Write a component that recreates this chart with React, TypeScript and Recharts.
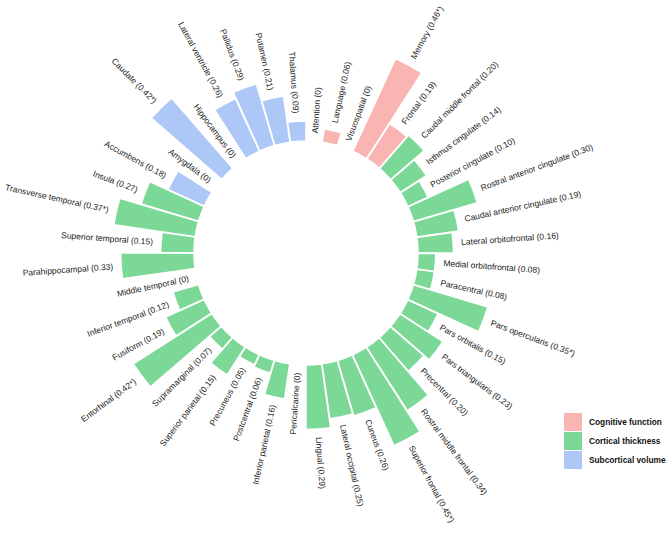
import { RadialBarChart, RadialBar, PolarAngleAxis, PolarRadiusAxis, Sector } from 'recharts';

// clockwise from 12 o'clock, grouped
const cognitiveNames = ['Attention', 'Language', 'Visuospatial', 'Memory', 'Frontal'];
const cognitiveValues = [0, 0.06, 0, 0.46, 0.19];

const corticalNames = [
  'Caudal middle frontal', 'Isthmus cingulate', 'Posterior cingulate', 'Rostral anterior cingulate',
  'Caudal anterior cingulate', 'Lateral orbitofrontal', 'Medial orbitofrontal', 'Paracentral',
  'Pars opercularis', 'Pars orbitalis', 'Pars triangularis', 'Precentral', 'Rostral middle frontal',
  'Superior frontal', 'Cuneus', 'Lateral occipital', 'Lingual', 'Pericalcarine', 'Inferior parietal',
  'Postcentral', 'Precuneus', 'Superior parietal', 'Supramarginal', 'Entorhinal', 'Fusiform',
  'Inferior temporal', 'Middle temporal', 'Parahippocampal', 'Superior temporal', 'Transverse temporal',
  'Insula',
];
const corticalValues = [
  0.2, 0.14, 0.1, 0.3, 0.19, 0.16, 0.08, 0.08, 0.35, 0.15, 0.23, 0.2, 0.34, 0.45, 0.26, 0.25, 0.29, 0,
  0.16, 0.06, 0.05, 0.15, 0.07, 0.42, 0.19, 0.12, 0, 0.33, 0.15, 0.37, 0.27,
];

const subcorticalNames = [
  'Accumbens', 'Amygdala', 'Caudate', 'Hippocampus', 'Lateral ventricle', 'Pallidus', 'Putamen', 'Thalamus',
];
const subcorticalValues = [0.18, 0, 0.42, 0, 0.26, 0.29, 0.21, 0.09];

// marked with * in the figure
const significant = ['Memory', 'Pars opercularis', 'Superior frontal', 'Entorhinal', 'Transverse temporal', 'Caudate'];

const groupLabels = ['Cognitive function', 'Cortical thickness', 'Subcortical volume'];
const groupColors = ['#F8B5B2', '#7BD897', '#ADC8F7'];

const fmt = (name: string, v: number) => {
  const s = v === 0 ? '0' : v.toFixed(2);
  return `${name} (${s}${significant.includes(name) ? '*' : ''})`;
};

const data = [
  ...cognitiveNames.map((n, i) => ({ name: n, value: cognitiveValues[i], group: 0 })),
  ...corticalNames.map((n, i) => ({ name: n, value: corticalValues[i], group: 1 })),
  ...subcorticalNames.map((n, i) => ({ name: n, value: subcorticalValues[i], group: 2 })),
];

// recharts draws each band from its tick onwards, so the circle starts one band early
const step = 360 / data.length;

function BarWithLabel(props: any) {
  const { cx, cy, innerRadius, outerRadius, startAngle, endAngle } = props;
  const item = props.payload && props.payload.name ? props.payload : data[props.index];
  const mid = (startAngle + endAngle) / 2;
  const rad = (-mid * Math.PI) / 180;
  const r = outerRadius + 8;
  const x = cx + r * Math.cos(rad);
  const y = cy + r * Math.sin(rad);
  const theta = (((90 - mid) % 360) + 360) % 360;
  const right = theta < 180;
  const rot = right ? theta - 90 : theta + 90;
  return (
    <g>
      {outerRadius > innerRadius && (
        <Sector
          cx={cx}
          cy={cy}
          innerRadius={innerRadius}
          outerRadius={outerRadius}
          startAngle={startAngle}
          endAngle={endAngle}
          fill={groupColors[item.group]}
          stroke="#fff"
          strokeWidth={1.5}
        />
      )}
      <text
        x={x}
        y={y}
        transform={`rotate(${rot} ${x} ${y})`}
        textAnchor={right ? 'start' : 'end'}
        dominantBaseline="central"
        fontSize={8.5}
        fontFamily="'Liberation Sans', Arial, sans-serif"
        fill="#222"
      >
        {fmt(item.name, item.value)}
      </text>
    </g>
  );
}

export default function App() {
  return (
    <div style={{ position: 'relative', width: 666, height: 533 }}>
      <style>{'body { margin: 0; }'}</style>
      <RadialBarChart
        width={666}
        height={533}
        data={data}
        layout="centric"
        cx={306}
        cy={253}
        innerRadius={112}
        outerRadius={334}
        startAngle={90 - step}
        endAngle={-270 - step}
        barCategoryGap={0}
        barGap={0}
        margin={{ top: 0, right: 0, bottom: 0, left: 0 }}
      >
        <PolarAngleAxis type="category" dataKey="name" tick={false} axisLine={false} />
        <PolarRadiusAxis type="number" domain={[0, 1]} tick={false} axisLine={false} />
        <RadialBar dataKey="value" shape={BarWithLabel} isAnimationActive={false} />
      </RadialBarChart>
      <div
        style={{
          position: 'absolute',
          left: 564,
          top: 412,
          fontFamily: "'Liberation Sans', Arial, sans-serif",
          whiteSpace: 'nowrap',
        }}
      >
        {groupLabels.map((g, i) => (
          <div key={g} style={{ display: 'flex', alignItems: 'center', height: 19 }}>
            <div style={{ width: 18, height: 18, flexShrink: 0, background: groupColors[i], marginRight: 7 }} />
            <span style={{ fontSize: 8.3, fontWeight: 'bold', color: '#111' }}>{g}</span>
          </div>
        ))}
      </div>
    </div>
  );
}
